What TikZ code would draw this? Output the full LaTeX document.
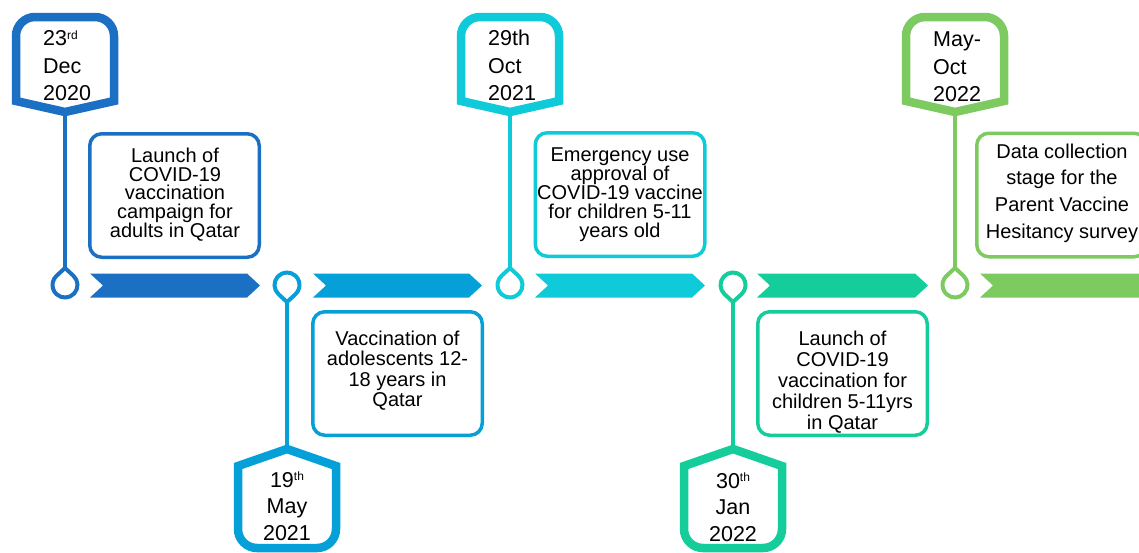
\documentclass[tikz,border=0pt]{standalone}
\usepackage{fontspec}
\setmainfont{Liberation Sans}
\usetikzlibrary{calc}
\definecolor{c1}{HTML}{1B70C4}
\definecolor{c2}{HTML}{05A0D8}
\definecolor{c3}{HTML}{0FCAD8}
\definecolor{c4}{HTML}{15CD9B}
\definecolor{c5}{HTML}{7DCA61}
\newcommand\dsup[1]{\raisebox{6.5pt}{\fontsize{12}{12}\selectfont #1}}
\newcommand\toptag[2]{%
  \draw[tagline,draw=#2] (#1,112) -- (#1-49,101) -- (#1-49,36)
    arc[start angle=180,end angle=270,radius=19] -- (#1+30,17)
    arc[start angle=270,end angle=360,radius=19] -- (#1+49,101) -- cycle;}
\newcommand\bottag[2]{%
  \draw[tagline,draw=#2] (#1,449) -- (#1-49,466) -- (#1-49,529)
    arc[start angle=180,end angle=90,radius=19] -- (#1+30,548)
    arc[start angle=90,end angle=0,radius=19] -- (#1+49,466) -- cycle;}
\newcommand\pinup[2]{%
  \draw[pin,draw=#2] (#1,268) -- ($(#1,285)+(-47.3:12.5)$)
    arc[start angle=-47.3,end angle=227.3,radius=12.5] -- cycle;}
\newcommand\pindown[2]{%
  \draw[pin,draw=#2] (#1,302) -- ($(#1,285)+(132.7:12.5)$)
    arc[start angle=132.7,end angle=407.3,radius=12.5] -- cycle;}
\newcommand\chev[3]{%
  \fill[#3] (#1,273.5) -- (#2-13,273.5) -- (#2,285.5) -- (#2-13,297.5)
    -- (#1,297.5) -- (#1+13,285.5) -- cycle;}
\begin{document}
\begin{tikzpicture}[x=1pt,y=-1pt,
  tagline/.style={line width=8.5pt, line join=miter, fill=white},
  stem/.style={line width=4.5pt},
  pin/.style={line width=4pt, fill=white},
  evbox/.style={draw, rounded corners=12pt, line width=3.5pt,
    minimum width=169.5, minimum height=123.5, inner sep=0},
  evtext/.style={align=center, inner sep=0, anchor=base, text=black},
  datetxt/.style={font=\fontsize{21.5}{27.5}\selectfont, inner sep=0,
    anchor=base west, align=left},
  datetxtb/.style={font=\fontsize{21.5}{26.5}\selectfont, inner sep=0,
    anchor=base, align=center},
]
\useasboundingbox (0,0) rectangle (1139,552);
\clip (0,0) rectangle (1139,552);

% timeline bands
\chev{90}{260}{c1}
\chev{313}{482}{c2}
\chev{535}{705}{c3}
\chev{757}{928}{c4}
\chev{980}{1165}{c5}

% stems
\coordinate (s1a) at (65,112);  \coordinate (s1b) at (65,270);
\coordinate (s2a) at (287,300); \coordinate (s2b) at (287,449);
\coordinate (s3a) at (510,112); \coordinate (s3b) at (510,270);
\coordinate (s4a) at (733,300); \coordinate (s4b) at (733,449);
\coordinate (s5a) at (955,112); \coordinate (s5b) at (955,270);
\draw[stem,c1] (s1a) -- (s1b);
\draw[stem,c2] (s2a) -- (s2b);
\draw[stem,c3] (s3a) -- (s3b);
\draw[stem,c4] (s4a) -- (s4b);
\draw[stem,c5] (s5a) -- (s5b);

% date tags
\toptag{65}{c1}
\bottag{287}{c2}
\toptag{510}{c3}
\bottag{733}{c4}
\toptag{955}{c5}

% pins
\pinup{65}{c1}
\pindown{287}{c2}
\pinup{510}{c3}
\pindown{733}{c4}
\pinup{955}{c5}

% date texts (anchor at last baseline)
\node[datetxt] (d1) at (43,100.5) {23\dsup{rd}\\Dec\\2020};
\node[datetxtb] (d2) at (287,540) {19\dsup{th}\\May\\2021};
\node[datetxt] (d3) at (488,100.5) {29th\\Oct\\2021};
\node[datetxtb] (d4) at (733,541) {30\dsup{th}\\Jan\\2022};
\node[datetxt] (d5) at (933,101.5) {May-\\Oct\\2022};

% event boxes
\node[evbox,draw=c1] (b1) at (174.5,195.5) {};
\node[evbox,draw=c2] (b2) at (397.5,373.5) {};
\node[evbox,draw=c3] (b3) at (620,194.5) {};
\node[evbox,draw=c4] (b4) at (842.5,373.5) {};
\node[evbox,draw=c5] (b5) at (1061.5,195) {};

\node[evtext,font=\fontsize{20}{18.7}\selectfont] (b1t) at (175,237.1)
  {Launch of\\COVID-19\\vaccination\\campaign for\\adults in Qatar};
\node[evtext,font=\fontsize{20}{20.6}\selectfont] (b2t) at (397.5,406.8)
  {Vaccination of\\adolescents 12-\\18 years in\\Qatar};
\node[evtext,font=\fontsize{20}{19}\selectfont] (b3t) at (620,237)
  {Emergency use\\approval of\\COVID-19 vaccine\\for children 5-11\\years old};
\node[evtext,font=\fontsize{20}{21}\selectfont] (b4t) at (842.5,429)
  {Launch of\\COVID-19\\vaccination for\\children 5-11yrs\\in Qatar};
\node[evtext,font=\fontsize{20}{26.6}\selectfont] (b5t) at (1062,238.1)
  {Data collection\\stage for the\\Parent Vaccine\\Hesitancy survey};
\end{tikzpicture}
\end{document}
